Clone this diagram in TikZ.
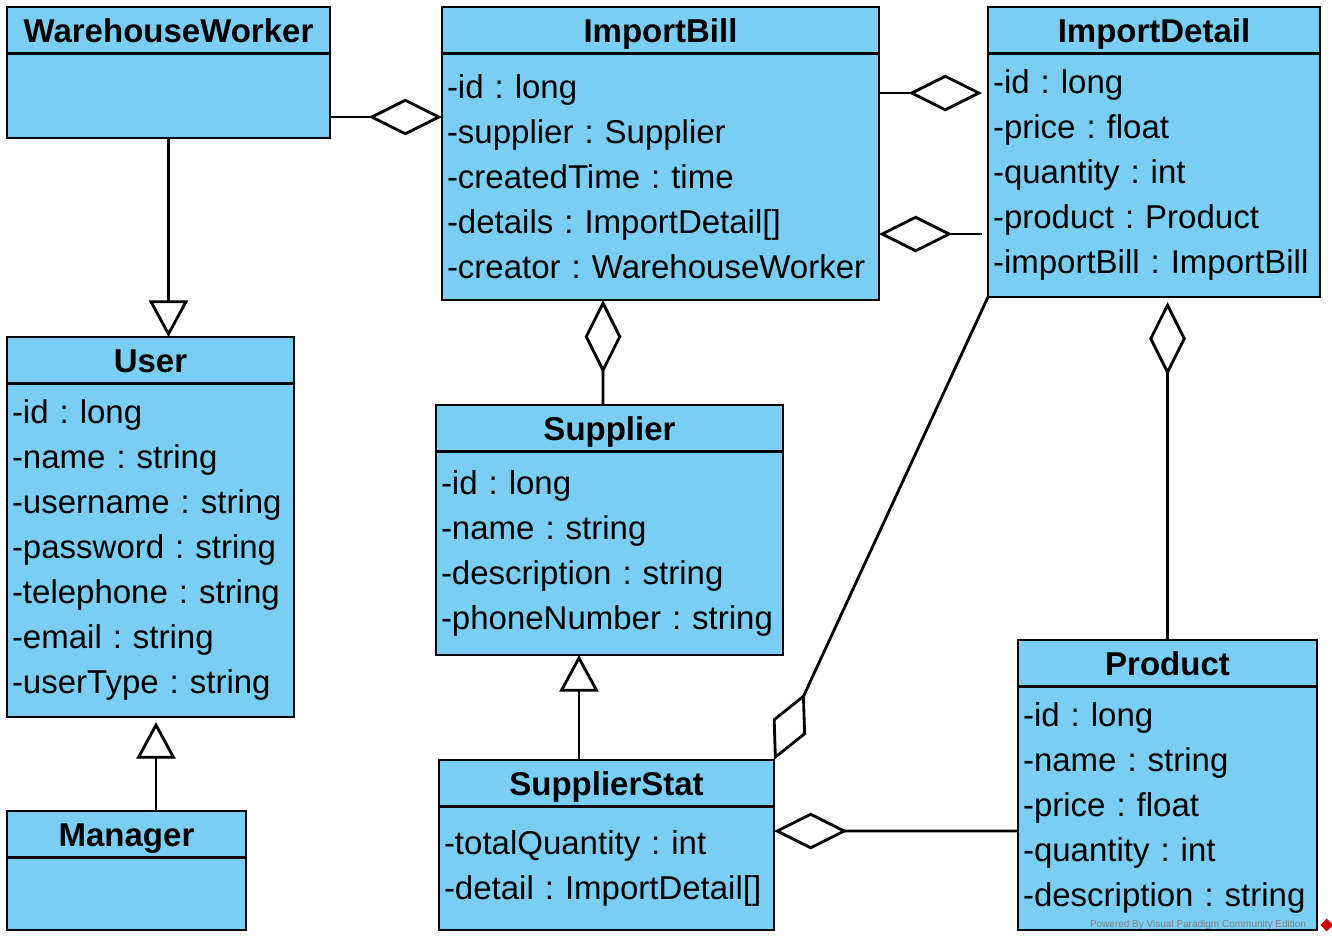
\documentclass[tikz,border=0pt]{standalone}
\usepackage{fontspec}
\setmainfont{Liberation Sans}
\usepackage{tikz}
\usetikzlibrary{arrows.meta,positioning,shapes.geometric}
\definecolor{classblue}{RGB}{122,206,244}
\newcommand{\umlfont}{\fontsize{9.9pt}{13.5pt}\selectfont\frenchspacing}

\begin{document}
\begin{tikzpicture}[
      x=0.3pt, y=-0.3pt,
      font=\umlfont,
      classhead/.style={draw, fill=classblue, line width=0.85pt, outer sep=0pt, anchor=north west, minimum height=14pt, text height=9pt, text depth=2pt, inner xsep=1.5pt, inner ysep=0pt, font=\umlfont\bfseries},
      classbody/.style={draw, fill=classblue, line width=0.85pt, outer sep=0pt, inner xsep=1.5pt, inner ysep=0pt, align=left},
      aggr/.style={-{Diamond[open, length=22pt, width=11pt]}, line width=0.85pt},
      gen/.style={-{Triangle[open, length=11pt, width=11.7pt]}, line width=0.85pt}
    ]
    \useasboundingbox (0,0) rectangle (1332,942);

    \node[classhead, minimum width=96.9pt] (ww) at (7,7) {WarehouseWorker};
    \node[classbody, text width=93.9pt, minimum height=25.3pt, below=0pt of ww] (wwb) {};

    \node[classhead, minimum width=131.1pt] (ib) at (442,7) {ImportBill};
    \node[classbody, text width=128.1pt, minimum height=73.9pt, below=0pt of ib] (ibb)
      {-id : long\\-supplier : Supplier\\-createdTime : time\\-details : ImportDetail[]\\-creator : WarehouseWorker};

    \node[classhead, minimum width=99.6pt] (id) at (988,7) {ImportDetail};
    \node[classbody, text width=96.6pt, minimum height=73pt, below=0pt of id] (idb)
      {-id : long\\-price : float\\-quantity : int\\-product : Product\\-importBill : ImportBill};

    \node[classhead, minimum width=86.1pt] (user) at (7,337) {User};
    \node[classbody, text width=83.1pt, minimum height=100pt, below=0pt of user] (userb)
      {-id : long\\-name : string\\-username : string\\-password : string\\-telephone : string\\-email : string\\-userType : string};

    \node[classhead, minimum width=104.1pt] (sup) at (436,405) {Supplier};
    \node[classbody, text width=101.1pt, minimum height=61pt, below=0pt of sup] (supb)
      {-id : long\\-name : string\\-description : string\\-phoneNumber : string};

    \node[classhead, minimum width=100.5pt] (ss) at (439,760) {SupplierStat};
    \node[classbody, text width=97.5pt, minimum height=37pt, below=0pt of ss] (ssb)
      {-totalQuantity : int\\-detail : ImportDetail[]};

    \node[classhead, minimum width=71.7pt] (mgr) at (7,811) {Manager};
    \node[classbody, text width=68.7pt, minimum height=21.7pt, below=0pt of mgr] (mgrb) {};

    \node[classhead, minimum width=89.7pt] (prod) at (1018,640) {Product};
    \node[classbody, text width=86.7pt, minimum height=73pt, below=0pt of prod] (prodb)
      {-id : long\\-name : string\\-price : float\\-quantity : int\\-description : string};

    \draw[aggr] ([yshift=-33pt]ww.north east) -- ([yshift=-33pt]ib.north west);
    \draw[aggr, shorten >=1.8pt] ([yshift=-25.8pt]ib.north east) -- ([yshift=-25.8pt]id.north west);
    \draw[aggr, shorten <=1.8pt] ([yshift=-68.1pt]id.north west) -- ([yshift=-68.1pt]ib.north east);
    \draw[gen] (wwb.south) -- (wwb.south |- user.north);
    \draw[gen, shorten >=1.5pt] ([xshift=8.85pt]mgr.north) -- ([xshift=1.65pt]userb.south);
    \draw[gen] ([xshift=-8.25pt]ss.north) -- ([xshift=-9.15pt]supb.south);
    \draw[aggr] ([xshift=-1.95pt]sup.north) -- ([xshift=-17.25pt]ibb.south);
    \draw[aggr, shorten >=1.5pt] (prod.north) -- (prod.north |- idb.south);
    \draw[aggr] (idb.south west) -- (ss.north east);
    \draw[aggr] ([yshift=-57.3pt]prod.north west) -- ([yshift=-21.3pt]ss.north east);

    \node[text=gray, font=\fontsize{3pt}{3.6pt}\selectfont] (vp) at (1198,925) {Powered By Visual Paradigm Community Edition};
    \node[diamond, fill=red!80!black, inner sep=0pt, minimum size=4pt, right=0.5pt of vp] (vplogo) {};
  \end{tikzpicture}
\end{document}
